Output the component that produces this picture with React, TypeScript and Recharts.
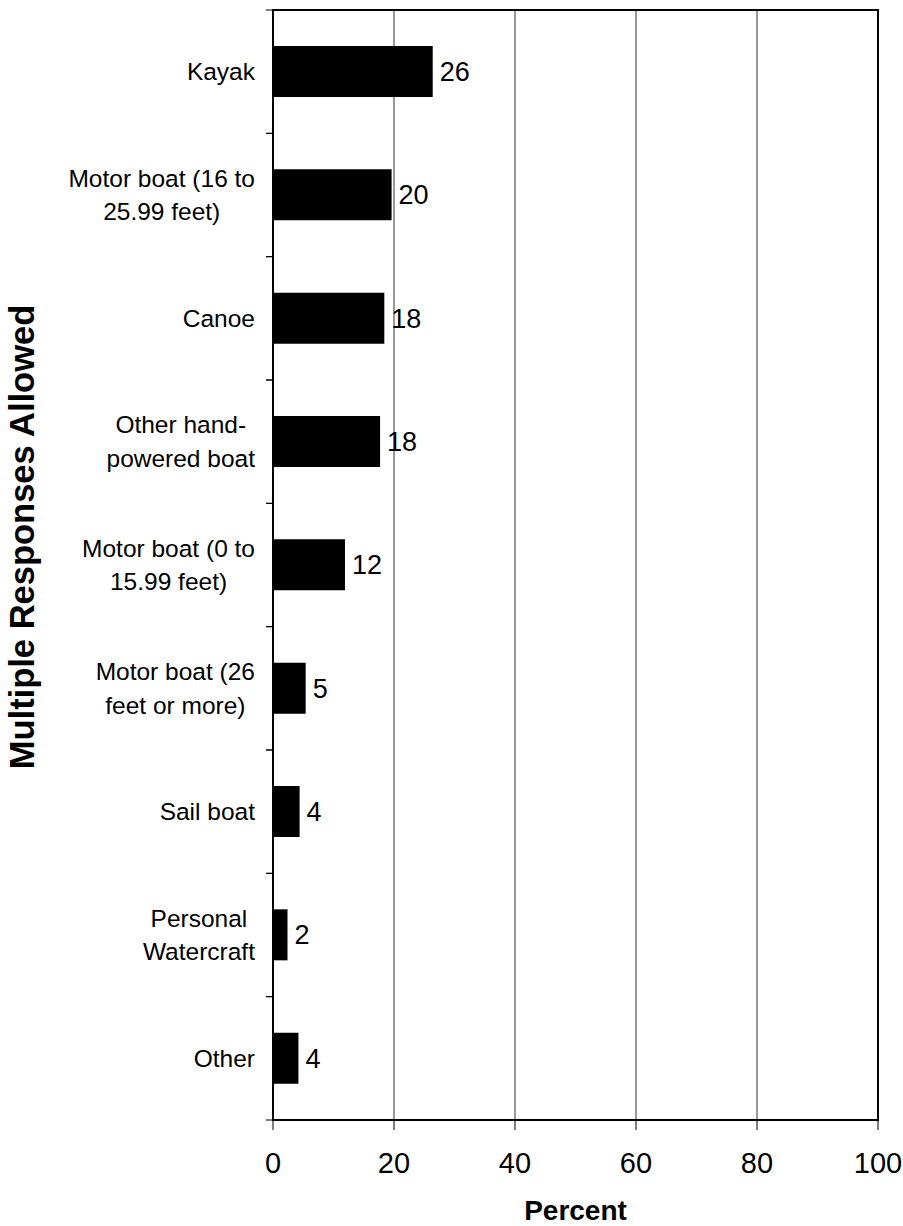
import React from 'react';
import { BarChart, Bar, XAxis, YAxis, CartesianGrid, ReferenceArea, LabelList } from 'recharts';

const categories = [
  'Kayak',
  'Motor boat (16 to\n25.99 feet)',
  'Canoe',
  'Other hand-\npowered boat',
  'Motor boat (0 to\n15.99 feet)',
  'Motor boat (26\nfeet or more)',
  'Sail boat',
  'Personal\nWatercraft',
  'Other',
];
const percentValues = [26.4, 19.6, 18.4, 17.7, 11.9, 5.4, 4.4, 2.4, 4.2];
const xTicks = [0, 20, 40, 60, 80, 100];

const data = categories.map((c, i) => ({ name: c, value: percentValues[i] }));

const FONT = "'Liberation Sans', Arial, sans-serif";

let ctx: CanvasRenderingContext2D | null = null;
const measure = (s: string, font: string) => {
  if (!ctx) ctx = document.createElement('canvas').getContext('2d');
  if (!ctx) return s.length * 12;
  ctx.font = font;
  return ctx.measureText(s).width;
};

const CatTick = (props: any) => {
  const { x, y, payload } = props;
  const lines: string[] = String(payload.value).split('\n');
  const half = payload.offset ?? 61.7;
  const fs = 24.5;
  const lh = 33.4;
  const widths = lines.map((l) => measure(l, `${fs}px ${FONT}`));
  const maxW = Math.max(...widths);
  const cx = x - maxW / 2;
  const first = y - ((lines.length - 1) * lh) / 2 + 8.5;
  const axisX = x + 18;
  return (
    <g>
      <line x1={axisX - 7} x2={axisX} y1={y - half} y2={y - half} stroke="#000" strokeWidth={1} />
      <line x1={axisX - 7} x2={axisX} y1={y + half} y2={y + half} stroke="#000" strokeWidth={1} />
      {lines.map((l, i) => (
        <text key={i} x={cx} y={first + i * lh} textAnchor="middle" fontSize={fs} fontFamily={FONT} fill="#000">
          {l}
        </text>
      ))}
    </g>
  );
};

const XTick = (props: any) => {
  const { x, y, payload } = props;
  return (
    <text x={x} y={y + 43} textAnchor="middle" fontSize={29} fontFamily={FONT} fill="#000">
      {payload.value}
    </text>
  );
};

export default function App() {
  return (
    <div style={{ position: 'absolute', left: 0, top: 0, background: '#fff' }}>
      <BarChart
        width={903}
        height={1226}
        data={data}
        layout="vertical"
        margin={{ top: 10, right: 25, bottom: 0, left: 0 }}
        barCategoryGap={0}
      >
        <CartesianGrid horizontal={false} vertical={true} stroke="#333" strokeWidth={1} />
        <XAxis
          type="number"
          domain={[0, 100]}
          ticks={xTicks}
          height={106}
          tickSize={10}
          tickMargin={0}
          axisLine={{ stroke: '#000', strokeWidth: 2 }}
          tickLine={{ stroke: '#000', strokeWidth: 1 }}
          tick={<XTick />}
          interval={0}
          label={{
            content: (p: any) => {
              const vb = p.viewBox || { x: 273, y: 1120, width: 605 };
              return (
                <text
                  x={vb.x + vb.width / 2}
                  y={vb.y + 100}
                  textAnchor="middle"
                  fontSize={28}
                  fontWeight="bold"
                  fontFamily={FONT}
                  fill="#000"
                >
                  Percent
                </text>
              );
            },
          }}
        />
        <YAxis
          type="category"
          dataKey="name"
          width={273}
          tickLine={false}
          tickSize={0}
          tickMargin={18}
          axisLine={{ stroke: '#000', strokeWidth: 2 }}
          tick={<CatTick />}
          interval={0}
          label={{
            content: () => {
              const cy = 537;
              const bx = 34;
              return (
                <text
                  x={bx}
                  y={cy}
                  transform={`rotate(-90, ${bx}, ${cy})`}
                  textAnchor="middle"
                  fontSize={34.5}
                  fontWeight="bold"
                  fontFamily={FONT}
                  fill="#000"
                >
                  Multiple Responses Allowed
                </text>
              );
            },
          }}
        />
        <Bar dataKey="value" fill="#000" barSize={51} isAnimationActive={false}>
          <LabelList
            dataKey="value"
            position="right"
            offset={7}
            formatter={(v: any) => Math.round(Number(v))}
            fontSize={27}
            fontFamily={FONT}
            fill="#000"
          />
        </Bar>
        <ReferenceArea x1={0} x2={100} fill="none" stroke="#000" strokeWidth={2} ifOverflow="visible" />
      </BarChart>
    </div>
  );
}
